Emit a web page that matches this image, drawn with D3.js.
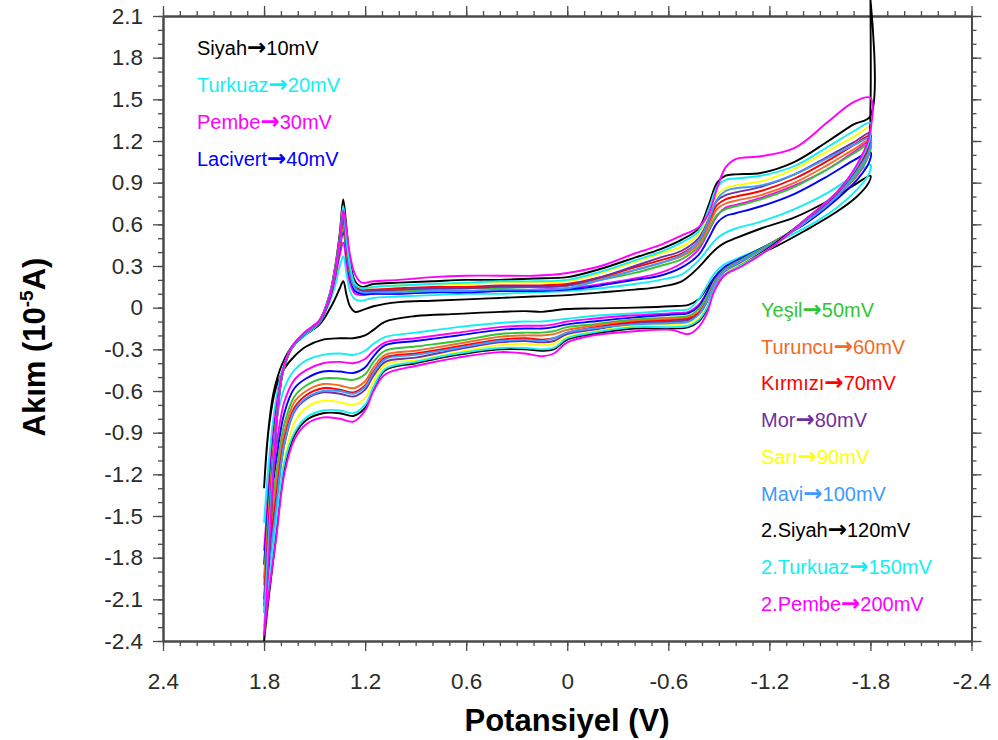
<!DOCTYPE html>
<html>
<head>
<meta charset="utf-8">
<script src="https://cdn.jsdelivr.net/npm/d3@7"></script>
<style>
  body { margin: 0; background: #fff; }
  svg { display: block; }
</style>
</head>
<body>
<svg id="chart" width="998" height="740"></svg>
<script>
// Potential grid (V) for the forward sweep (+1.8 -> -1.8) and the return sweep (-1.8 -> +1.8)
const potentialForward = [1.80, 1.785, 1.765, 1.745, 1.72, 1.69, 1.64, 1.56, 1.47, 1.41, 1.38, 1.35, 1.33, 1.31, 1.29, 1.26, 1.22, 1.15, 1.0, 0.8, 0.6, 0.4, 0.2, 0.0, -0.2, -0.4, -0.55, -0.68, -0.78, -0.84, -0.89, -0.94, -1.0, -1.15, -1.35, -1.55, -1.7, -1.8];
const potentialReverse = [-1.80, -1.79, -1.72, -1.6, -1.42, -1.22, -1.04, -0.93, -0.87, -0.83, -0.78, -0.72, -0.62, -0.4, -0.15, 0.0, 0.08, 0.15, 0.25, 0.4, 0.65, 0.9, 1.08, 1.15, 1.2, 1.27, 1.35, 1.45, 1.55, 1.62, 1.68, 1.73, 1.77, 1.80];

// Series names, scan rates (mV/s) and colours
const seriesNames = ["Siyah", "Turkuaz", "Pembe", "Lacivert", "Yeşil", "Turuncu", "Kırmızı", "Mor", "Sarı", "Mavi", "2.Siyah", "2.Turkuaz", "2.Pembe"];
const scanRates = [10, 20, 30, 40, 50, 60, 70, 80, 90, 100, 120, 150, 200];
const seriesColors = ["#000000", "#14eef2", "#ff00ff", "#0000ff", "#33c433", "#f26a25", "#ff0000", "#7030a0", "#ffff00", "#3d9bff", "#000000", "#14eef2", "#ff00ff"];

// Current (10^-5 A), forward sweep
const currentFwd10  = [-1.30, -1.02, -0.78, -0.62, -0.50, -0.40, -0.29, -0.20, -0.12, -0.01, 0.06, 0.14, 0.19, 0.09, 0.01, -0.03, -0.02, 0.01, 0.04, 0.05, 0.06, 0.07, 0.08, 0.09, 0.11, 0.13, 0.15, 0.19, 0.29, 0.37, 0.43, 0.47, 0.50, 0.57, 0.65, 0.77, 0.88, 0.95];
const currentFwd20  = [-1.55, -1.30, -1.02, -0.80, -0.60, -0.44, -0.30, -0.20, -0.11, 0.04, 0.15, 0.30, 0.37, 0.24, 0.12, 0.06, 0.05, 0.07, 0.08, 0.09, 0.10, 0.10, 0.11, 0.12, 0.14, 0.17, 0.20, 0.24, 0.34, 0.43, 0.50, 0.54, 0.57, 0.62, 0.71, 0.83, 0.95, 1.03];
const currentFwd30  = [-1.75, -1.50, -1.18, -0.90, -0.66, -0.46, -0.30, -0.19, -0.10, 0.06, 0.20, 0.38, 0.47, 0.32, 0.18, 0.10, 0.09, 0.10, 0.10, 0.11, 0.12, 0.12, 0.13, 0.14, 0.17, 0.21, 0.25, 0.32, 0.42, 0.55, 0.66, 0.72, 0.74, 0.79, 0.88, 1.00, 1.12, 1.20];
const currentFwd40  = [-1.85, -1.58, -1.25, -0.95, -0.69, -0.47, -0.30, -0.19, -0.10, 0.07, 0.22, 0.43, 0.55, 0.38, 0.22, 0.12, 0.10, 0.10, 0.10, 0.11, 0.11, 0.12, 0.12, 0.13, 0.16, 0.20, 0.23, 0.29, 0.38, 0.50, 0.61, 0.66, 0.68, 0.73, 0.82, 0.95, 1.06, 1.12];
const currentFwd50  = [-1.95, -1.66, -1.31, -0.99, -0.71, -0.47, -0.30, -0.19, -0.10, 0.08, 0.23, 0.45, 0.58, 0.40, 0.24, 0.14, 0.12, 0.12, 0.12, 0.13, 0.14, 0.14, 0.15, 0.16, 0.20, 0.25, 0.30, 0.35, 0.44, 0.56, 0.67, 0.71, 0.73, 0.78, 0.87, 1.00, 1.11, 1.18];
const currentFwd60  = [-2.00, -1.72, -1.36, -1.03, -0.72, -0.47, -0.30, -0.19, -0.10, 0.08, 0.24, 0.47, 0.62, 0.42, 0.25, 0.15, 0.13, 0.13, 0.13, 0.14, 0.14, 0.15, 0.15, 0.16, 0.21, 0.27, 0.32, 0.37, 0.46, 0.59, 0.71, 0.75, 0.77, 0.81, 0.90, 1.03, 1.14, 1.21];
const currentFwd70  = [-2.10, -1.80, -1.42, -1.06, -0.73, -0.47, -0.30, -0.19, -0.10, 0.08, 0.25, 0.48, 0.64, 0.43, 0.26, 0.15, 0.13, 0.13, 0.14, 0.15, 0.15, 0.16, 0.16, 0.17, 0.22, 0.29, 0.34, 0.39, 0.48, 0.62, 0.74, 0.78, 0.80, 0.84, 0.93, 1.06, 1.17, 1.24];
const currentFwd80  = [-2.15, -1.85, -1.47, -1.09, -0.74, -0.47, -0.30, -0.19, -0.10, 0.09, 0.26, 0.49, 0.67, 0.45, 0.27, 0.15, 0.12, 0.12, 0.13, 0.14, 0.14, 0.15, 0.15, 0.16, 0.22, 0.30, 0.36, 0.41, 0.50, 0.64, 0.77, 0.81, 0.83, 0.87, 0.96, 1.09, 1.19, 1.26];
const currentFwd90  = [-2.40, -2.10, -1.66, -1.18, -0.75, -0.47, -0.29, -0.18, -0.09, 0.10, 0.28, 0.53, 0.77, 0.55, 0.33, 0.18, 0.14, 0.15, 0.16, 0.17, 0.17, 0.18, 0.18, 0.19, 0.25, 0.33, 0.39, 0.44, 0.53, 0.68, 0.81, 0.86, 0.88, 0.91, 1.00, 1.13, 1.23, 1.30];
const currentFwd100 = [-2.20, -1.90, -1.50, -1.10, -0.74, -0.47, -0.30, -0.19, -0.10, 0.09, 0.26, 0.50, 0.70, 0.47, 0.28, 0.14, 0.11, 0.11, 0.11, 0.12, 0.12, 0.13, 0.13, 0.14, 0.20, 0.27, 0.32, 0.38, 0.48, 0.63, 0.78, 0.84, 0.86, 0.88, 0.96, 1.08, 1.17, 1.22];
const currentFwd120 = [-2.40, -2.10, -1.67, -1.19, -0.76, -0.47, -0.29, -0.18, -0.09, 0.10, 0.28, 0.54, 0.78, 0.56, 0.34, 0.19, 0.15, 0.17, 0.18, 0.19, 0.20, 0.20, 0.21, 0.22, 0.28, 0.36, 0.42, 0.49, 0.57, 0.74, 0.90, 0.95, 0.96, 0.97, 1.05, 1.20, 1.32, 1.38];
const currentFwd150 = [-2.30, -2.00, -1.58, -1.14, -0.75, -0.47, -0.29, -0.18, -0.09, 0.10, 0.27, 0.51, 0.73, 0.51, 0.31, 0.17, 0.14, 0.15, 0.16, 0.17, 0.18, 0.19, 0.19, 0.20, 0.26, 0.34, 0.40, 0.47, 0.55, 0.71, 0.87, 0.92, 0.93, 0.95, 1.02, 1.16, 1.27, 1.33];
const currentFwd200 = [-2.36, -2.08, -1.64, -1.17, -0.74, -0.46, -0.29, -0.18, -0.09, 0.09, 0.26, 0.50, 0.70, 0.56, 0.38, 0.24, 0.18, 0.19, 0.20, 0.22, 0.23, 0.23, 0.23, 0.25, 0.30, 0.39, 0.45, 0.52, 0.58, 0.68, 0.86, 1.01, 1.07, 1.09, 1.15, 1.34, 1.48, 1.51];

// Current (10^-5 A), return sweep
const currentRev10  = [0.95, 0.90, 0.80, 0.69, 0.56, 0.43, 0.34, 0.28, 0.21, 0.14, 0.06, 0.02, 0.01, 0.00, -0.005, -0.01, -0.02, -0.03, -0.025, -0.03, -0.045, -0.06, -0.10, -0.16, -0.20, -0.22, -0.22, -0.23, -0.28, -0.35, -0.44, -0.58, -0.85, -1.30];
const currentRev20  = [1.03, 0.96, 0.85, 0.72, 0.58, 0.46, 0.37, 0.31, 0.24, 0.16, 0.06, -0.01, -0.02, -0.04, -0.06, -0.08, -0.09, -0.10, -0.10, -0.11, -0.14, -0.18, -0.21, -0.26, -0.31, -0.34, -0.33, -0.34, -0.38, -0.45, -0.58, -0.84, -1.20, -1.55];
const currentRev30  = [1.20, 1.10, 0.95, 0.80, 0.62, 0.47, 0.35, 0.28, 0.20, 0.11, 0.02, -0.03, -0.04, -0.055, -0.08, -0.10, -0.12, -0.13, -0.13, -0.14, -0.18, -0.22, -0.25, -0.31, -0.37, -0.40, -0.39, -0.40, -0.45, -0.52, -0.68, -1.02, -1.40, -1.75];
const currentRev40  = [1.12, 1.04, 0.92, 0.78, 0.61, 0.47, 0.36, 0.29, 0.21, 0.11, 0.01, -0.04, -0.05, -0.07, -0.10, -0.12, -0.14, -0.15, -0.15, -0.16, -0.20, -0.24, -0.27, -0.35, -0.43, -0.47, -0.46, -0.46, -0.51, -0.58, -0.76, -1.12, -1.50, -1.85];
const currentRev50  = [1.18, 1.10, 0.96, 0.80, 0.62, 0.47, 0.35, 0.27, 0.18, 0.08, -0.01, -0.06, -0.07, -0.085, -0.12, -0.14, -0.17, -0.18, -0.18, -0.19, -0.24, -0.28, -0.31, -0.39, -0.48, -0.52, -0.51, -0.51, -0.56, -0.64, -0.84, -1.22, -1.60, -1.95];
const currentRev60  = [1.21, 1.13, 0.98, 0.81, 0.62, 0.46, 0.34, 0.26, 0.17, 0.06, -0.03, -0.07, -0.08, -0.095, -0.13, -0.16, -0.19, -0.20, -0.20, -0.21, -0.26, -0.31, -0.34, -0.43, -0.53, -0.58, -0.56, -0.55, -0.60, -0.68, -0.90, -1.30, -1.66, -2.00];
const currentRev70  = [1.24, 1.15, 1.00, 0.82, 0.63, 0.46, 0.34, 0.26, 0.16, 0.05, -0.04, -0.08, -0.09, -0.105, -0.145, -0.18, -0.22, -0.23, -0.22, -0.23, -0.28, -0.33, -0.36, -0.46, -0.56, -0.61, -0.59, -0.58, -0.63, -0.72, -0.95, -1.38, -1.76, -2.10];
const currentRev80  = [1.26, 1.17, 1.01, 0.82, 0.63, 0.45, 0.33, 0.25, 0.15, 0.04, -0.05, -0.09, -0.10, -0.115, -0.16, -0.19, -0.24, -0.25, -0.24, -0.25, -0.30, -0.36, -0.39, -0.49, -0.59, -0.64, -0.62, -0.61, -0.66, -0.75, -0.99, -1.44, -1.82, -2.15];
const currentRev90  = [1.30, 1.20, 1.02, 0.83, 0.64, 0.45, 0.32, 0.24, 0.13, 0.01, -0.08, -0.11, -0.12, -0.13, -0.175, -0.21, -0.26, -0.27, -0.26, -0.27, -0.32, -0.38, -0.41, -0.53, -0.65, -0.70, -0.68, -0.67, -0.72, -0.83, -1.10, -1.62, -2.06, -2.40];
const currentRev100 = [1.22, 1.12, 0.98, 0.80, 0.62, 0.46, 0.34, 0.26, 0.16, 0.05, -0.05, -0.10, -0.11, -0.12, -0.15, -0.18, -0.22, -0.24, -0.23, -0.24, -0.29, -0.34, -0.37, -0.47, -0.57, -0.62, -0.60, -0.60, -0.65, -0.74, -0.98, -1.46, -1.86, -2.20];
const currentRev120 = [1.38, 1.22, 1.02, 0.83, 0.64, 0.45, 0.31, 0.23, 0.12, -0.01, -0.10, -0.14, -0.15, -0.15, -0.19, -0.23, -0.30, -0.31, -0.30, -0.30, -0.34, -0.40, -0.45, -0.58, -0.72, -0.78, -0.76, -0.76, -0.81, -0.92, -1.17, -1.66, -2.06, -2.40];
const currentRev150 = [1.33, 1.20, 1.02, 0.83, 0.64, 0.44, 0.31, 0.23, 0.12, 0.00, -0.09, -0.13, -0.14, -0.14, -0.18, -0.22, -0.29, -0.30, -0.29, -0.29, -0.33, -0.39, -0.44, -0.57, -0.70, -0.76, -0.74, -0.74, -0.79, -0.90, -1.12, -1.56, -1.96, -2.30];
const currentRev200 = [1.51, 1.22, 1.03, 0.83, 0.64, 0.44, 0.30, 0.23, 0.11, -0.04, -0.14, -0.19, -0.16, -0.17, -0.20, -0.25, -0.33, -0.35, -0.33, -0.32, -0.36, -0.42, -0.48, -0.60, -0.74, -0.82, -0.80, -0.79, -0.84, -0.95, -1.20, -1.68, -2.04, -2.36];

// Current overload at the cathodic vertex of the 120 mV run: [V, 10^-5 A]
const vertexSpike120 = [[-1.80, 2.22], [-1.80, 1.44]];

// Axis ticks
const xMajorTicks = [2.4, 1.8, 1.2, 0.6, 0, -0.6, -1.2, -1.8, -2.4];
const xTickLabels = ["2.4", "1.8", "1.2", "0.6", "0", "-0.6", "-1.2", "-1.8", "-2.4"];
const yMajorTicks = [2.1, 1.8, 1.5, 1.2, 0.9, 0.6, 0.3, 0, -0.3, -0.6, -0.9, -1.2, -1.5, -1.8, -2.1, -2.4];
const yTickLabels = ["2.1", "1.8", "1.5", "1.2", "0.9", "0.6", "0.3", "0", "-0.3", "-0.6", "-0.9", "-1.2", "-1.5", "-1.8", "-2.1", "-2.4"];

const forwardCurrents = [currentFwd10, currentFwd20, currentFwd30, currentFwd40, currentFwd50, currentFwd60, currentFwd70, currentFwd80, currentFwd90, currentFwd100, currentFwd120, currentFwd150, currentFwd200];
const reverseCurrents = [currentRev10, currentRev20, currentRev30, currentRev40, currentRev50, currentRev60, currentRev70, currentRev80, currentRev90, currentRev100, currentRev120, currentRev150, currentRev200];

// ---- layout ----
const svg = d3.select("#chart");
const plot = { left: 163, right: 971.5, top: 16, bottom: 641 };

const x = d3.scaleLinear().domain([2.4, -2.4]).range([plot.left, plot.right]);
const y = d3.scaleLinear().domain([-2.4, 2.1]).range([plot.bottom, plot.top]);

const xMinorTicks = d3.range(-24, 25).map(i => i / 10);
const yMinorTicks = d3.range(-24, 22).map(i => i / 10);

const tickFont = "'Liberation Sans', Arial, Helvetica, sans-serif";
const axisColor = "#4a4a4a";

function styleAxis(g) {
  g.select(".domain").attr("stroke", axisColor).attr("stroke-width", 2);
  g.selectAll(".tick line").attr("stroke", axisColor).attr("stroke-width", 1.3);
  g.selectAll(".tick text").attr("fill", "#2b2b2b").attr("font-family", tickFont).attr("font-size", 22.5);
}

// bottom axis
svg.append("g").attr("transform", `translate(0,${plot.bottom})`)
  .call(d3.axisBottom(x).tickValues(xMinorTicks).tickSize(5).tickSizeOuter(0).tickFormat(""))
  .call(styleAxis);
svg.append("g").attr("transform", `translate(0,${plot.bottom})`)
  .call(d3.axisBottom(x).tickValues(xMajorTicks).tickSize(10).tickSizeOuter(0).tickPadding(22)
    .tickFormat((d, i) => xTickLabels[i]))
  .call(styleAxis);

// top axis
svg.append("g").attr("transform", `translate(0,${plot.top})`)
  .call(d3.axisTop(x).tickValues(xMinorTicks).tickSize(5).tickSizeOuter(0).tickFormat(""))
  .call(styleAxis);
svg.append("g").attr("transform", `translate(0,${plot.top})`)
  .call(d3.axisTop(x).tickValues(xMajorTicks).tickSize(10).tickSizeOuter(0).tickFormat(""))
  .call(styleAxis);

// left axis
svg.append("g").attr("transform", `translate(${plot.left},0)`)
  .call(d3.axisLeft(y).tickValues(yMinorTicks).tickSize(5).tickSizeOuter(0).tickFormat(""))
  .call(styleAxis);
svg.append("g").attr("transform", `translate(${plot.left},0)`)
  .call(d3.axisLeft(y).tickValues(yMajorTicks).tickSize(10).tickSizeOuter(0).tickPadding(10)
    .tickFormat((d, i) => yTickLabels[i]))
  .call(styleAxis);

// right axis
svg.append("g").attr("transform", `translate(${plot.right},0)`)
  .call(d3.axisRight(y).tickValues(yMinorTicks).tickSize(5).tickSizeOuter(0).tickFormat(""))
  .call(styleAxis);
svg.append("g").attr("transform", `translate(${plot.right},0)`)
  .call(d3.axisRight(y).tickValues(yMajorTicks).tickSize(10).tickSizeOuter(0).tickFormat(""))
  .call(styleAxis);

// ---- voltammograms ----
const line = d3.line()
  .x(d => x(d[0]))
  .y(d => y(d[1]))
  .curve(d3.curveCatmullRom.alpha(0.5));

const curves = scanRates.map((rate, k) => {
  const fwd = potentialForward.map((e, i) => [e, forwardCurrents[k][i]]);
  const rev = potentialReverse.map((e, i) => [e, reverseCurrents[k][i]]).slice(1);
  const spike = rate === 120 ? vertexSpike120 : [];
  return { k, points: fwd.concat(spike, rev) };
});

svg.append("g").attr("class", "curves")
  .selectAll("path")
  .data(curves)
  .join("path")
  .attr("d", d => line(d.points))
  .attr("fill", "none")
  .attr("stroke", d => seriesColors[d.k])
  .attr("stroke-width", 1.9)
  .attr("stroke-linejoin", "round");

// ---- legend ----
const legendFont = "'Liberation Sans', Arial, Helvetica, sans-serif";
function legendEntry(k, lx, ly) {
  const t = svg.append("text")
    .attr("x", lx).attr("y", ly).attr("dy", "0.35em")
    .attr("font-family", legendFont).attr("font-size", 20)
    .attr("fill", seriesColors[k]);
  t.append("tspan").text(seriesNames[k]);
  t.append("tspan").attr("font-family", "'DejaVu Sans', sans-serif").attr("font-weight", "bold")
    .attr("font-size", 23).text("→");
  t.append("tspan").text(scanRates[k] + "mV");
}
for (let k = 0; k < 4; k++) legendEntry(k, 197, 48 + k * 37);
for (let k = 4; k < 13; k++) legendEntry(k, 761, 310 + (k - 4) * 36.7);

// ---- axis titles ----
svg.append("text")
  .attr("x", 567).attr("y", 731)
  .attr("text-anchor", "middle")
  .attr("font-family", legendFont).attr("font-weight", "bold").attr("font-size", 31)
  .attr("fill", "#000")
  .text("Potansiyel (V)");

const yTitle = svg.append("text")
  .attr("transform", "translate(45,347) rotate(-90)")
  .attr("text-anchor", "middle")
  .attr("font-family", legendFont).attr("font-weight", "bold").attr("font-size", 31)
  .attr("fill", "#000");
yTitle.append("tspan").text("Akım (10");
yTitle.append("tspan").attr("font-size", 19).attr("dy", -12).text("-5");
yTitle.append("tspan").attr("dy", 12).text("A)");
</script>
</body>
</html>
